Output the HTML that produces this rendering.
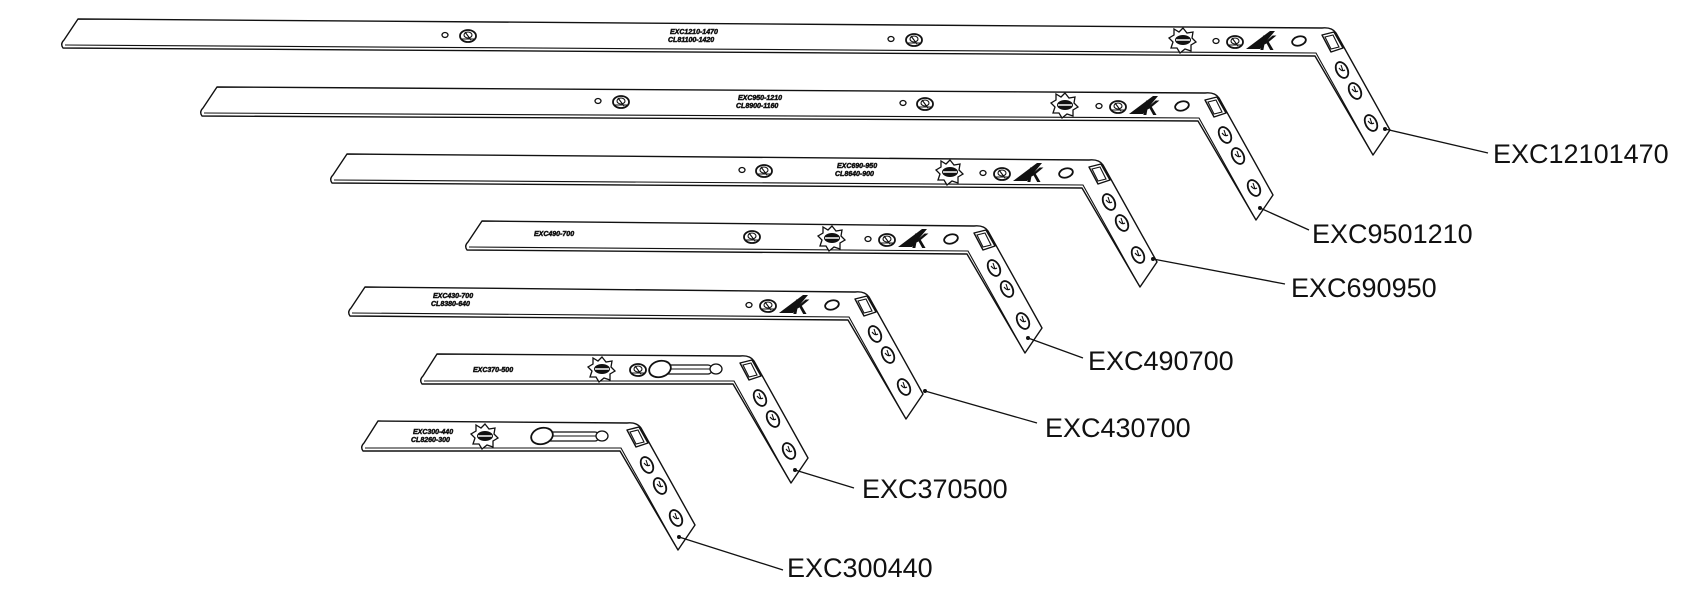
<!DOCTYPE html>
<html><head><meta charset="utf-8"><style>
html,body{margin:0;padding:0;background:#fff;}
svg{display:block}
.o{fill:#fff;stroke:#111;stroke-width:1.4;stroke-linejoin:round}
.l{fill:none;stroke:#111;stroke-width:1.1}
.h{fill:#fff;stroke:#111;stroke-width:1.3}
.hh{fill:#fff;stroke:#111;stroke-width:1.8}
.lab{font-family:"Liberation Sans",sans-serif;font-size:27px;fill:#111}
.t{font-family:"Liberation Sans",sans-serif;font-size:7px;font-weight:bold;font-style:italic;fill:#111;stroke:#111;stroke-width:0.5}
.ak{font-family:"Liberation Sans",sans-serif;font-size:21px;font-weight:bold;font-style:italic;fill:#111}
</style></head><body>
<svg width="1707" height="595" viewBox="0 0 1707 595" xmlns="http://www.w3.org/2000/svg">
<defs>
<g id="leg">
  <polygon class="o" points="-8,7 4,4 13,20 1,24"/>
  <polygon class="l" points="-5,9 3,7 9,19 1,21"/>
  <ellipse class="hh" cx="12" cy="42" rx="5.5" ry="8.5" transform="rotate(-28 12 42)"/>
  <ellipse class="hh" cx="25" cy="63" rx="5.5" ry="8.5" transform="rotate(-28 25 63)"/>
  <ellipse class="hh" cx="41" cy="95" rx="5.5" ry="8.5" transform="rotate(-28 41 95)"/>
  <path class="l" d="M9,40 q3,4 6,2 M22,61 q3,4 6,2 M38,93 q3,4 6,2 M11,37 l2,6 M24,58 l2,6 M40,90 l2,6"/>
</g>
<g id="screw">
  <ellipse class="hh" cx="0" cy="0" rx="8" ry="6"/>
  <ellipse class="l" cx="0" cy="-1" rx="4" ry="3"/>
  <path class="l" d="M-6,3 L6,3 M-3,-4 L3,4"/>
</g>
<g id="star">
  <polygon class="h" points="0,-12 4,-7 10,-8 9,-2 13,2 8,5 8,11 2,9 -3,13 -6,8 -12,8 -10,2 -14,-2 -9,-5 -9,-11 -4,-8"/>
  <ellipse cx="0" cy="0" rx="8" ry="5" fill="#111"/>
  <path d="M-7,0 L7,0" stroke="#fff" stroke-width="1.5"/>
</g>
<g id="ako">
  <ellipse class="h" cx="-114" cy="0" rx="3" ry="2.5"/>
  <use href="#screw" x="-95" y="1"/>
  <polygon points="-84,8 -60,-10 -55,-10 -70,8" fill="#111"/>
  <text class="ak" x="-70" y="9">K</text>
  <ellipse class="hh" cx="-31" cy="0" rx="7" ry="4.5" transform="rotate(-15 -31 0)"/>
</g>
</defs>

<!-- B1 -->
<g transform="translate(1330,28)">
  <path class="o" d="M-1252,-9 L-8,0 Q2,-1 6,5 L60,102 L43,127 L-15,28 L-1267,20 Q-1270,16 -1266,12 Z"/>
  <path class="l" d="M-1265,17 L-14,25 L40,122"/>
  <use href="#leg"/>
  <use href="#star" x="-147" y="12"/>
  <use href="#ako" y="13"/>
  <ellipse class="h" cx="-885" cy="7" rx="3" ry="2.5"/><use href="#screw" x="-862" y="8"/>
  <ellipse class="h" cx="-439" cy="11" rx="3" ry="2.5"/><use href="#screw" x="-416" y="12"/>
  <text class="t" x="-660" y="6">EXC1210-1470</text><text class="t" x="-662" y="14">CL81100-1420</text>
</g>
<!-- B2 -->
<g transform="translate(1213,93)">
  <path class="o" d="M-996,-6 L-8,0 Q2,-1 6,5 L60,102 L43,127 L-15,28 L-1011,23 Q-1014,19 -1010,15 Z"/>
  <path class="l" d="M-1009,20 L-14,25 L40,122"/>
  <use href="#leg"/>
  <use href="#star" x="-148" y="12"/>
  <use href="#ako" y="13"/>
  <ellipse class="h" cx="-615" cy="8" rx="3" ry="2.5"/><use href="#screw" x="-592" y="9"/>
  <ellipse class="h" cx="-310" cy="10" rx="3" ry="2.5"/><use href="#screw" x="-288" y="11"/>
  <text class="t" x="-475" y="7">EXC950-1210</text><text class="t" x="-477" y="15">CL8900-1160</text>
</g>
<!-- B3 -->
<g transform="translate(1097,160)">
  <path class="o" d="M-750,-6 L-8,0 Q2,-1 6,5 L60,102 L43,127 L-15,28 L-765,23 Q-768,19 -764,15 Z"/>
  <path class="l" d="M-763,20 L-14,25 L40,122"/>
  <use href="#leg"/>
  <use href="#star" x="-147" y="12"/>
  <use href="#ako" y="13"/>
  <ellipse class="h" cx="-355" cy="10" rx="3" ry="2.5"/><use href="#screw" x="-333" y="11"/>
  <text class="t" x="-260" y="8">EXC690-950</text><text class="t" x="-262" y="16">CL8640-900</text>
</g>
<!-- B4 -->
<g transform="translate(982,226)">
  <path class="o" d="M-500,-5 L-8,0 Q2,-1 6,5 L60,102 L43,127 L-15,28 L-515,24 Q-518,20 -514,16 Z"/>
  <path class="l" d="M-513,21 L-14,25 L40,122"/>
  <use href="#leg"/>
  <use href="#star" x="-150" y="12"/>
  <use href="#ako" y="13"/>
  <use href="#screw" x="-230" y="11"/>
  <text class="t" x="-448" y="10">EXC490-700</text>
</g>
<!-- B5 -->
<g transform="translate(863,292)">
  <path class="o" d="M-498,-5 L-8,0 Q2,-1 6,5 L60,102 L43,127 L-15,28 L-513,24 Q-516,20 -512,16 Z"/>
  <path class="l" d="M-511,21 L-14,25 L40,122"/>
  <use href="#leg"/>
  <use href="#ako" y="13"/>
  <text class="t" x="-430" y="6">EXC430-700</text><text class="t" x="-432" y="14">CL8380-640</text>
</g>
<!-- B6 -->
<g transform="translate(748,356)">
  <path class="o" d="M-311,-2 L-8,0 Q2,-1 6,5 L60,102 L43,127 L-15,28 L-326,28 Q-329,24 -325,20 Z"/>
  <path class="l" d="M-324,25 L-14,25 L40,122"/>
  <use href="#leg"/>
  <use href="#star" x="-146" y="13"/>
  <use href="#screw" x="-110" y="14"/>
  <rect class="h" x="-92" y="9" width="56" height="9" rx="4"/>
  <path class="l" d="M-88,13 L-38,13"/>
  <ellipse class="hh" cx="-88" cy="13" rx="11" ry="8" transform="rotate(-15 -88 13)"/>
  <ellipse class="h" cx="-32" cy="13" rx="6" ry="5"/>
  <text class="t" x="-275" y="16">EXC370-500</text>
</g>
<!-- B7 -->
<g transform="translate(635,423)">
  <path class="o" d="M-257,-2 L-8,0 Q2,-1 6,5 L60,102 L43,127 L-15,28 L-272,28 Q-275,24 -271,20 Z"/>
  <path class="l" d="M-270,25 L-14,25 L40,122"/>
  <use href="#leg"/>
  <use href="#star" x="-150" y="13"/>
  <rect class="h" x="-92" y="9" width="56" height="9" rx="4"/>
  <path class="l" d="M-88,13 L-38,13"/>
  <ellipse class="hh" cx="-93" cy="13" rx="11" ry="8" transform="rotate(-15 -93 13)"/>
  <ellipse class="h" cx="-33" cy="13" rx="6" ry="5"/>
  <text class="t" x="-222" y="11">EXC300-440</text><text class="t" x="-224" y="19">CL8260-300</text>
</g>

<!-- leaders -->
<g stroke="#111" stroke-width="1.3" fill="none">
<path d="M1385,129 L1488,153"/>
<path d="M1260,208 L1309,230"/>
<path d="M1153,259 L1285,284"/>
<path d="M1028,338 L1083,358"/>
<path d="M925,391 L1037,423"/>
<path d="M795,470 L854,488"/>
<path d="M679,537 L783,570"/>
</g>
<g fill="#111">
<circle cx="1385" cy="129" r="2"/><circle cx="1260" cy="208" r="2"/><circle cx="1153" cy="259" r="2"/>
<circle cx="1028" cy="338" r="2"/><circle cx="925" cy="391" r="2"/><circle cx="795" cy="470" r="2"/><circle cx="679" cy="537" r="2"/>
</g>
<text class="lab" x="1493" y="163">EXC12101470</text>
<text class="lab" x="1312" y="243">EXC9501210</text>
<text class="lab" x="1291" y="297">EXC690950</text>
<text class="lab" x="1088" y="370">EXC490700</text>
<text class="lab" x="1045" y="437">EXC430700</text>
<text class="lab" x="862" y="498">EXC370500</text>
<text class="lab" x="787" y="577">EXC300440</text>
</svg>
</body></html>
